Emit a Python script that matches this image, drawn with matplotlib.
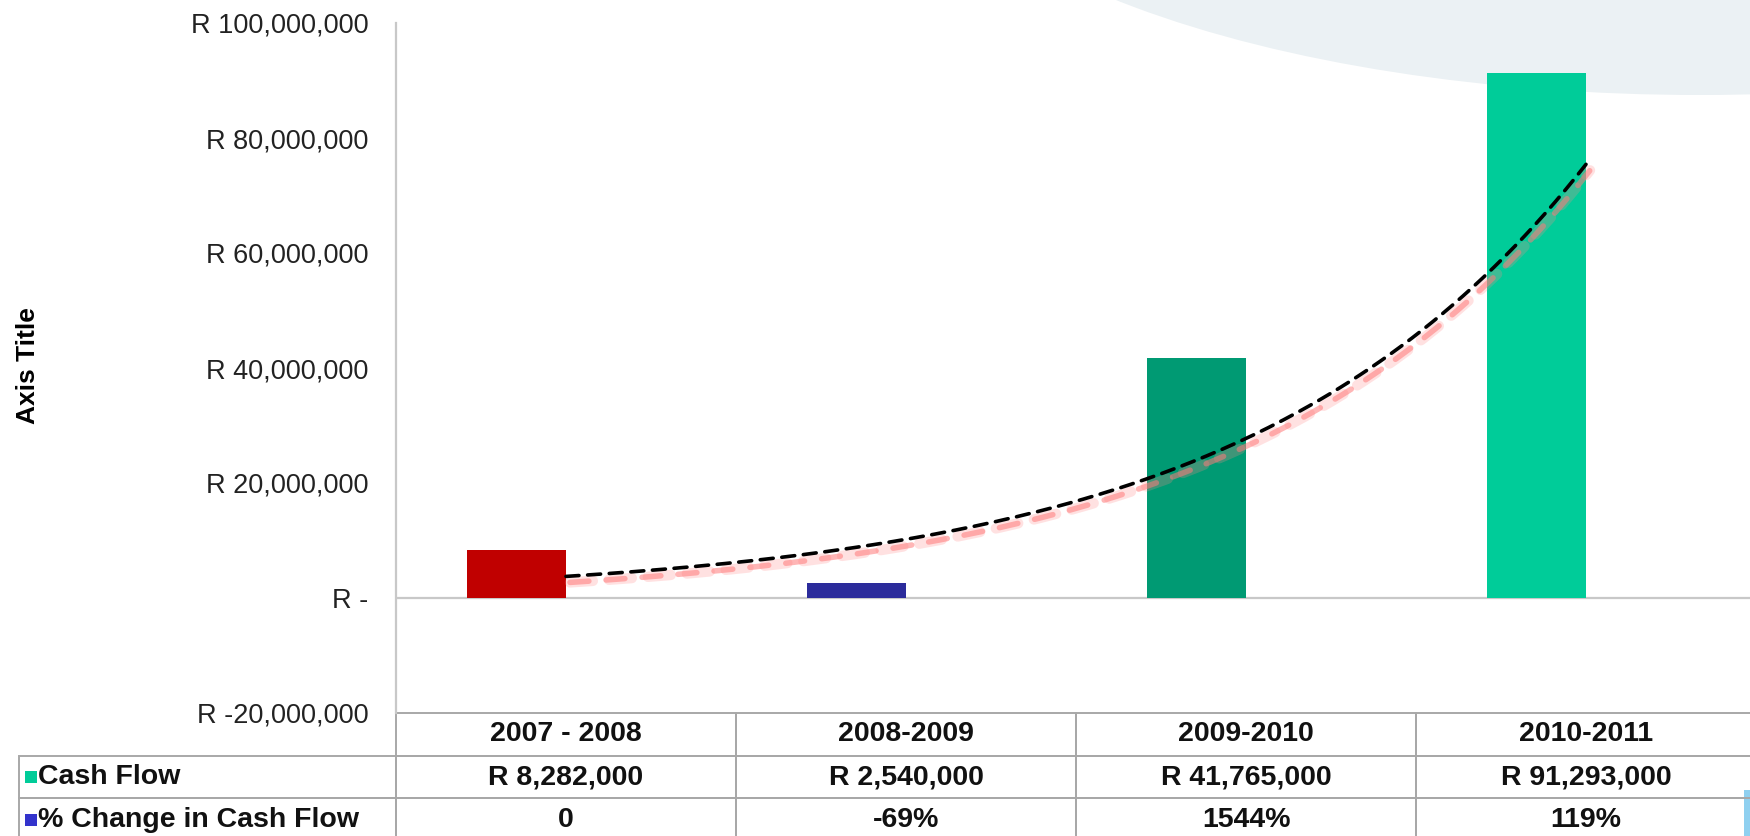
import numpy as np
import matplotlib
matplotlib.use("Agg")
import matplotlib.pyplot as plt
from matplotlib.patches import Ellipse, Rectangle
from matplotlib.table import Table
from matplotlib.transforms import offset_copy

plt.rcParams['font.family'] = ['Liberation Sans', 'DejaVu Sans']

periods = ["2007 - 2008", "2008-2009", "2009-2010", "2010-2011"]
cash_flow = [8282000, 2540000, 41765000, 91293000]
pct_change = [0.0, -0.69, 15.44, 1.19]
cash_labels = ["R 8,282,000", "R 2,540,000", "R 41,765,000", "R 91,293,000"]
pct_labels = ["0", "-69%", "1544%", "119%"]
row_names = ["Cash Flow", "% Change in Cash Flow"]
bar_colors = ["#c00000", "#2b2b9b", "#009a73", "#00cc99"]
key_colors = ["#00cc99", "#3333cc"]
yticks = [-20000000, 0, 20000000, 40000000, 60000000, 80000000, 100000000]

grid_col = "#a8a8a8"
ax_w = 1360  # plot width in pixels

fig = plt.figure(figsize=(17.5, 8.36), dpi=100)
fig.patch.set_facecolor("white")

# pale slide shape in the top right corner, behind everything
fig.patches.append(Ellipse((1700 / 1750, 1 + 205 / 836), 2 * 800 / 1750, 2 * 300 / 836,
                           transform=fig.transFigure, facecolor="#ebf1f4",
                           edgecolor="none", zorder=-5))
fig.patches.append(Rectangle((1744 / 1750, 0), 6 / 1750, 46 / 836,
                             transform=fig.transFigure, facecolor="#8fd0f0",
                             edgecolor="none", zorder=-5))

ax = fig.add_axes([396 / 1750, 1 - 713 / 836, ax_w / 1750, 690 / 836])
ax.set_facecolor("none")
ax.set_zorder(1)

x = np.arange(len(periods))
w = 0.29
ax.bar(x - w / 2, cash_flow, w, color=bar_colors, zorder=2)
ax.bar(x + w / 2, pct_change, w, color=key_colors[1], zorder=2)

# exponential trend through the cash flow values
k, c = np.polyfit(x, np.log(cash_flow), 1)
xs = np.linspace(x[0], x[-1], 200)
trend = np.exp(c + k * xs)
dash = (0, (3.6, 2.4))
shadow = offset_copy(ax.transData, fig=fig, x=4, y=-6, units="dots")
ax.plot(xs, trend, color="#ff8a8a", lw=7.5, alpha=0.25, ls=(0, (2.2, 1.55)), transform=shadow,
        zorder=3, dash_capstyle="round")
ax.plot(xs, trend, color="#ff7a7a", lw=4, alpha=0.55, ls=(0, (3.4, 3.1)), transform=shadow,
        zorder=3, dash_capstyle="round")
ax.plot(xs, trend, color="black", lw=2.6, ls=dash, zorder=4, dash_capstyle="round")

ax.axhline(0, color="#c8c8c8", lw=1.6, zorder=1)
ax.set_xlim(-0.5, 3.5)
ax.set_ylim(-20000000, 100000000)
ax.set_xticks([])
ax.set_yticks(yticks)
ax.set_yticklabels(["R -" if v == 0 else "R " + format(v, ",") for v in yticks])
ax.tick_params(axis="y", length=0, pad=20, labelsize=19.5, labelcolor="#222222")
for s in ["top", "right", "bottom"]:
    ax.spines[s].set_visible(False)
ax.spines["left"].set_color("#c8c8c8")
ax.spines["left"].set_linewidth(1.6)

fig.text(28 / 1750, 1 - 366 / 836, "Axis Title", rotation=90, ha="center", va="center",
         fontsize=19, fontweight="bold")

# data table under the plot
lab_w = (396 - 19) / ax_w
tab_h = 128 / 690
row_h = tab_h / 3
tbl = Table(ax, bbox=[-lab_w, -tab_h, 1 + lab_w, tab_h])
rows = [[""] + periods, [row_names[0]] + cash_labels, [row_names[1]] + pct_labels]
for r, vals in enumerate(rows):
    for cidx, txt in enumerate(vals):
        cw = lab_w if cidx == 0 else 0.25
        loc = "left" if cidx == 0 else "center"
        cell = tbl.add_cell(r, cidx, cw, row_h, text=txt, loc=loc,
                            facecolor="none", edgecolor=grid_col)
        cell.set_linewidth(1.4)
        if cidx == 0:
            cell.PAD = 0.05
        if r == 0 and cidx == 0:
            cell.set_edgecolor("none")
        t = cell.get_text()
        t.set_fontweight("bold")
        t.set_color("#111111")
tbl.auto_set_font_size(False)
tbl.set_fontsize(20.5)
tbl.set_clip_on(False)
ax.add_table(tbl)

for i, col in enumerate(key_colors):
    yc = -row_h * (i + 1.5)
    ax.add_patch(Rectangle((-lab_w + 6 / ax_w, yc - 6 / 690), 12 / ax_w, 12 / 690,
                           transform=ax.transAxes, facecolor=col, edgecolor="none",
                           clip_on=False, zorder=5))

fig.savefig("out.png", dpi=100)
